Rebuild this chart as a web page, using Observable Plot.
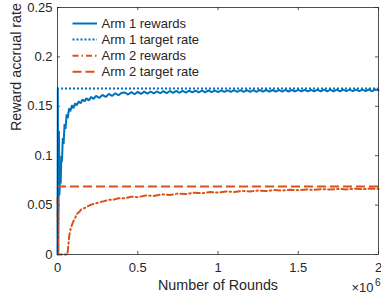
<!DOCTYPE html>
<html><head><meta charset="utf-8">
<script src="https://cdn.jsdelivr.net/npm/d3@7"></script>
<script src="https://cdn.jsdelivr.net/npm/@observablehq/plot@0.6"></script>
<style>
body{margin:0;background:#fff}
#chart{position:relative;width:381px;height:301px}
#chart svg{font-family:"Liberation Sans",Arial,Helvetica,sans-serif}
#legend{position:absolute;left:0;top:0;pointer-events:none}
</style>
</head><body><div id="chart"></div>
<script>
// x in units of 10^6 rounds
const xTicks = [0, 0.5, 1, 1.5, 2];
const yTicks = [0, 0.05, 0.1, 0.15, 0.2, 0.25];
const seriesNames = ["Arm 1 rewards", "Arm 1 target rate", "Arm 2 rewards", "Arm 2 target rate"];
const arm1Target = 0.168;
const arm2Target = 0.0687;

const arm1Head = [
  [0,0],[0.002,0.168],[0.005,0.002],[0.009,0.125],[0.012,0.06],[0.016,0.08],[0.02,0.072],
  [0.024,0.1],[0.028,0.094],[0.033,0.118],[0.038,0.112],[0.044,0.132],[0.05,0.127],
  [0.057,0.142],[0.064,0.138],[0.072,0.148],[0.08,0.145],[0.09,0.151],[0.1,0.148],
  [0.11,0.153],[0.12,0.151],[0.132,0.155],[0.144,0.153],[0.156,0.157],[0.168,0.155],
  [0.18,0.158],[0.195,0.156],[0.21,0.1595],[0.225,0.1575],[0.24,0.1605],[0.26,0.1585],
  [0.28,0.1615],[0.3,0.1595],[0.32,0.1625],[0.34,0.1605],[0.36,0.1632],[0.38,0.1612],[0.40,0.1637]
];
// values read at x = 0.42, 0.44, ..., 2.00
const arm1TailX0 = 0.42, arm1TailStep = 0.02;
const arm1Tail = [
  .1640,.1619,.1643,.1622,.1646,.1625,.1648,.1628,.1650,.1630,
  .1652,.1632,.1653,.1634,.1655,.1636,.1656,.1637,.1657,.1639,
  .1658,.1640,.1659,.1641,.1660,.1642,.1661,.1643,.1661,.1644,
  .1662,.1645,.1662,.1645,.1663,.1646,.1663,.1646,.1664,.1647,
  .1664,.1647,.1665,.1648,.1665,.1648,.1665,.1649,.1666,.1649,
  .1666,.1650,.1666,.1650,.1667,.1650,.1667,.1651,.1667,.1651,
  .1668,.1651,.1668,.1652,.1668,.1652,.1668,.1652,.1669,.1653,
  .1669,.1653,.1669,.1653,.1669,.1654,.1670,.1654,.1670,.1662
];
const arm2 = [
  [0,0.057],[0.004,0],[0.062,0],[0.068,0.01],[0.074,0.02],[0.082,0.026],[0.09,0.03],
  [0.1,0.034],[0.11,0.037],[0.12,0.041],[0.135,0.043],[0.15,0.046],[0.17,0.047],
  [0.19,0.049],[0.21,0.0505],[0.235,0.0515],[0.26,0.053],[0.29,0.054],[0.32,0.0555],
  [0.35,0.0555],[0.38,0.057],[0.42,0.0568],[0.46,0.0585],[0.5,0.058],[0.55,0.0598],
  [0.6,0.0593],[0.65,0.0608],[0.7,0.0603],[0.75,0.0617],[0.8,0.0612],[0.85,0.0625],
  [0.9,0.062],[0.95,0.0632],[1.0,0.0627],[1.05,0.0638],[1.1,0.0633],[1.15,0.0643],
  [1.2,0.0638],[1.25,0.0648],[1.3,0.0643],[1.35,0.0652],[1.4,0.0647],[1.45,0.0656],
  [1.5,0.0651],[1.55,0.0659],[1.6,0.0654],[1.65,0.0662],[1.7,0.0657],[1.75,0.0664],
  [1.8,0.0659],[1.85,0.0666],[1.9,0.0661],[1.95,0.0667],[2.0,0.0664]
];

const arm1 = arm1Head.concat(arm1Tail.map((v, i) => [arm1TailX0 + i * arm1TailStep, v]));

const blue = "#0072BD", orange = "#D95319", ink = "#262626";
const W = 381, H = 301, mL = 57, mR = 3, mT = 7, mB = 47;
const pw = W - mL - mR, ph = H - mT - mB;
const fmt = d => String(+d.toFixed(2));

const styles = [
  {stroke: blue, dash: null},
  {stroke: blue, dash: "2,2"},
  {stroke: orange, dash: "6,3,1.5,3"},
  {stroke: orange, dash: "9,4"}
];

const chart = Plot.plot({
  width: W, height: H,
  marginLeft: mL, marginRight: mR, marginTop: mT, marginBottom: mB,
  style: {fontFamily: '"Liberation Sans", Arial, sans-serif', fontSize: "13px", color: ink, background: "white"},
  x: {domain: [0, 2]},
  y: {domain: [0, 0.25]},
  marks: [
    Plot.axisX(xTicks, {tickSize: 0, tickPadding: 8, tickFormat: fmt, label: null}),
    Plot.axisY(yTicks, {tickSize: 0, tickPadding: 5, tickFormat: fmt, label: null}),
    Plot.ruleX(xTicks, {insetTop: ph - 3, stroke: ink, strokeWidth: 0.8}),
    Plot.ruleX(xTicks, {insetBottom: ph - 3, stroke: ink, strokeWidth: 0.8}),
    Plot.ruleY(yTicks, {insetRight: pw - 3, stroke: ink, strokeWidth: 0.8}),
    Plot.ruleY(yTicks, {insetLeft: pw - 3, stroke: ink, strokeWidth: 0.8}),
    Plot.line(arm1, {x: d => d[0], y: d => d[1], stroke: styles[0].stroke, strokeWidth: 2, strokeLinejoin: "miter"}),
    Plot.ruleY([arm1Target], {stroke: styles[1].stroke, strokeWidth: 2, strokeDasharray: styles[1].dash}),
    Plot.line(arm2, {x: d => d[0], y: d => d[1], stroke: styles[2].stroke, strokeWidth: 2, strokeDasharray: styles[2].dash}),
    Plot.ruleY([arm2Target], {stroke: styles[3].stroke, strokeWidth: 2, strokeDasharray: styles[3].dash}),
    Plot.frame({stroke: ink, strokeWidth: 0.8}),
    Plot.text(["Number of Rounds"], {frameAnchor: "bottom", dy: 35, fontSize: 14.3, fill: ink}),
    Plot.text(["Reward accrual rate"], {frameAnchor: "left", dx: -41, rotate: -90, fontSize: 14.3, fill: ink}),
    Plot.text(["\u00d710"], {frameAnchor: "bottom-right", dx: -5, dy: 37, textAnchor: "end", fontSize: 13, fill: ink}),
    Plot.text(["6"], {frameAnchor: "bottom-right", dx: 2, dy: 31, textAnchor: "end", fontSize: 10, fill: ink})
  ]
});
const host = document.getElementById("chart");
host.appendChild(chart);

const leg = d3.select(host).append("svg").attr("id", "legend")
  .attr("width", W).attr("height", H)
  .style("font-family", '"Liberation Sans", Arial, sans-serif');
seriesNames.forEach((name, i) => {
  const y = 23.5 + i * 16.1;
  leg.append("line").attr("x1", 72.5).attr("x2", 97).attr("y1", y).attr("y2", y)
    .attr("stroke", styles[i].stroke).attr("stroke-width", 2)
    .attr("stroke-dasharray", styles[i].dash);
  leg.append("text").attr("x", 101.5).attr("y", y).attr("dy", "0.35em")
    .attr("font-size", 13).attr("fill", ink).text(name);
});
</script></body></html>
